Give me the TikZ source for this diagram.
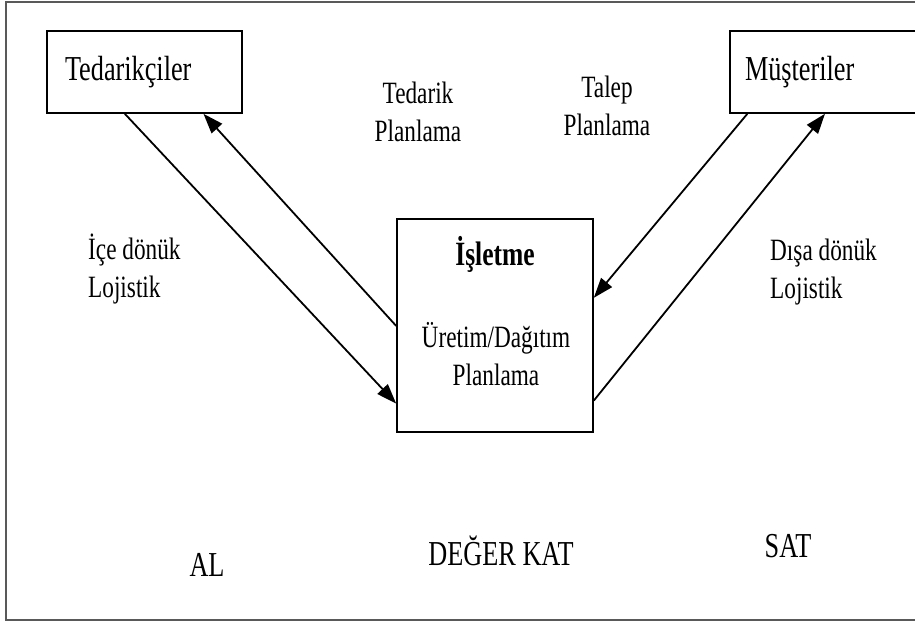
\documentclass[tikz,border=0pt]{standalone}
\usepackage{fontspec}
\setmainfont[FakeStretch=0.75]{Liberation Serif}
\usetikzlibrary{arrows.meta, positioning, calc}

\begin{document}
\begin{tikzpicture}[
  x=1pt, y=-1pt,
  box/.style={draw, line width=1.6pt, align=left,
    font=\fontsize{35}{42}\selectfont, minimum height=82pt},
  bigtxt/.style={font=\fontsize{35}{42}\selectfont, inner sep=0pt},
  smalltxt/.style={font=\fontsize{31}{38}\selectfont, inner sep=0pt, align=center},
  flow/.style={line width=1.8pt, -{Triangle[length=20pt, width=14pt]}}
]
\useasboundingbox (0,0) rectangle (915,626);
\clip (0,0) rectangle (915,626);
% outer frame
\draw[black!65, line width=2pt] (6,2) rectangle (940,620);

% partners and firm
\node[box, text width=159pt, inner xsep=18pt] (ted) at (144.5,72) {Tedarikçiler};
\node[box, text width=170pt, inner xsep=15pt] (mus) at (830,72) {Müşteriler};
\node[draw, line width=1.6pt, minimum width=196pt, minimum height=213pt] (isl) at (495,325.5) {};
\node[bigtxt, font=\fontsize{34}{40}\selectfont\bfseries, anchor=base] (isltxt) at (495,265) {İşletme};
\node[smalltxt] (uretim) at (496,354) {Üretim/Dağıtım\\Planlama};

% flows
\draw[flow] ($(ted.south west)!0.4!(ted.south east)$) -- ($(isl.north west)!0.864!(isl.south west)$);
\draw[flow] ($(isl.north west)!0.502!(isl.south west)$) -- ($(ted.south west)!0.8!(ted.south east)$);
\draw[flow] ($(mus.south west)!0.09!(mus.south east)$) -- ($(isl.north east)!0.371!(isl.south east)$);
\draw[flow] ($(isl.north east)!0.85!(isl.south east)$) -- ($(mus.south west)!0.475!(mus.south east)$);

% labels
\node[smalltxt] (tedplan) at (418,112) {Tedarik\\Planlama};
\node[smalltxt] (talplan) at (607,106) {Talep\\Planlama};
\node[smalltxt, align=left, anchor=west] (icelog) at (88,269) {İçe dönük\\Lojistik};
\node[smalltxt, align=left, anchor=west] (disalog) at (770,272) {Dışa dönük\\Lojistik};

\node[bigtxt, anchor=base] (al) at (207,576) {AL};
\node[bigtxt, anchor=base] (deger) at (501,565) {DEĞER KAT};
\node[bigtxt, anchor=base] (sat) at (788,557) {SAT};
\end{tikzpicture}
\end{document}
